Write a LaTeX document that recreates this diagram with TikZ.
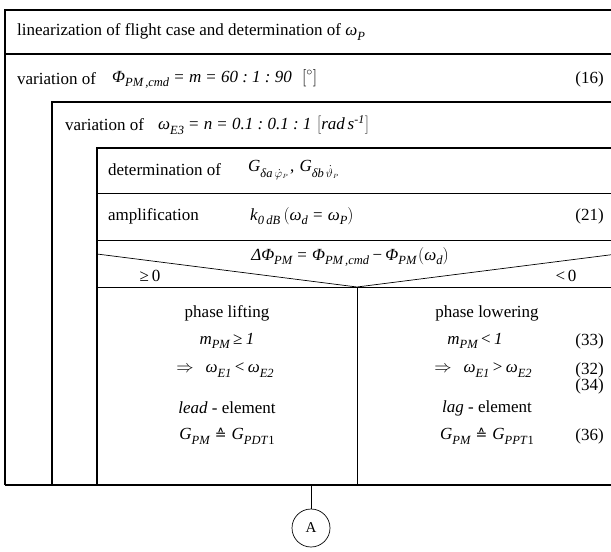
\documentclass[tikz,border=0pt]{standalone}
\usepackage{fontspec}
\setmainfont{Liberation Serif}
\newfontfamily\dvfont{DejaVu Sans}
\newcommand\sbs[1]{\raisebox{-0.28em}{\fontsize{12.5}{13}\selectfont\itshape #1}}
\newcommand\eqs{\hspace{0.3em}=\hspace{0.3em}}
\newcommand\cln{\hspace{0.25em}:\hspace{0.25em}}
\newcommand\hateq{{\dvfont\fontsize{14}{14}\selectfont ≙}}
\tikzset{
  txt/.style={inner sep=0pt,font=\fontsize{17}{20}\selectfont},
  lw/.style={txt,anchor=west},
  le/.style={txt,anchor=east},
  box/.style={line width=1.2pt},
  thin/.style={line width=0.7pt},
}
\begin{document}
\begin{tikzpicture}[x=1pt,y=-1pt]
\useasboundingbox (0,0) rectangle (611,552);
\begin{scope}
\clip (0,0) rectangle (611,552);
% outer box
\draw[box] (5,485) -- (5,10) -- (640,10);
\draw[box] (5,54) -- (640,54);
\draw[box] (5,485) -- (640,485);
% second box
\draw[box] (52,485) -- (52,102) -- (640,102);
% third box
\draw[box] (97,485) -- (97,148) -- (640,148);
\draw[thin] (97,193) -- (640,193);
\draw[thin] (97,240) -- (640,240);
\draw[thin] (97,287) -- (640,287);
\coordinate (tl) at (97,254);
\coordinate (ap) at (357,287);
\coordinate (tr) at (617,254);
\draw[thin] (tl) -- (ap) -- (tr);
\coordinate (db) at (357,485);
\draw[thin] (ap) -- (db);
\end{scope}
% texts
\node[lw] (t1) at (17,32) {linearization of flight case and determination of \textit{ω}\sbs{P}};
\node[lw] (t2a) at (17,79) {variation of};
\node[lw] (t2b) at (112,79) {\textit{Φ}\sbs{PM\,,cmd}\eqs\textit{m}\eqs\textit{60\cln 1\cln 90}\hspace{0.6em}$\left[\vphantom{A}{}^{\circ}\right]$};
\node[le] (n16) at (604,79) {(16)};
\node[lw] (t3a) at (65,125) {variation of};
\node[lw] (t3b) at (158,125) {\textit{ω}\sbs{E3}\eqs\textit{n}\eqs\textit{0.1\cln 0.1\cln 1}\hspace{0.3em}$\left[\mbox{\textit{rad\,s}\textsuperscript{\textit{-1}}}\right]$};
\node[lw] (t4a) at (108,170) {determination of};
\node[lw] (t4b) at (248,170) {\textit{G}\raisebox{-0.3em}{\fontsize{12.5}{13}\selectfont\textit{δa}\,$\dot{\varphi}_{\scriptscriptstyle P}$}\hspace{0.1em},\hspace{0.3em}\textit{G}\raisebox{-0.3em}{\fontsize{12.5}{13}\selectfont\textit{δb}\,$\dot{\vartheta}_{\scriptscriptstyle P}$}};
\node[lw] (t5a) at (108,216) {amplification};
\node[lw] (t5b) at (250,216) {\textit{k}\sbs{0\,dB}\hspace{0.2em}$\left(\mbox{\textit{ω}\sbs{d}\eqs\textit{ω}\sbs{P}}\right)$};
\node[le] (n21) at (604,216) {(21)};
\node[txt] (dec) at (350,257) {\textit{ΔΦ}\sbs{PM}\eqs\textit{Φ}\sbs{PM\,,cmd}\hspace{0.2em}−\hspace{0.2em}\textit{Φ}\sbs{PM}\hspace{0.1em}$\left(\mbox{\textit{ω}\sbs{d}}\right)$};
\node[txt] (ge) at (150,276) {≥\,0};
\node[txt] (lt) at (566,276) {<\,0};
% left column
\node[txt] (l1) at (227,313) {phase lifting};
\node[txt] (l2) at (227,341) {\textit{m}\sbs{PM}\hspace{0.2em}≥\hspace{0.2em}\textit{1}};
\node[txt] (l3) at (225,370) {$\Rightarrow$\hspace{0.7em}\textit{ω}\sbs{E1}\hspace{0.2em}<\hspace{0.2em}\textit{ω}\sbs{E2}};
\node[txt] (l4) at (227,408) {\textit{lead} - element};
\node[txt] (l5) at (227,436) {\textit{G}\sbs{PM}\hspace{0.3em}\hateq\hspace{0.3em}\textit{G}\raisebox{-0.28em}{\fontsize{12.5}{13}\selectfont\textit{PDT}1}};
% right column
\node[txt] (r1) at (487,313) {phase lowering};
\node[txt] (r2) at (475,341) {\textit{m}\sbs{PM}\hspace{0.2em}<\hspace{0.2em}\textit{1}};
\node[txt] (r3) at (483,370) {$\Rightarrow$\hspace{0.7em}\textit{ω}\sbs{E1}\hspace{0.2em}>\hspace{0.2em}\textit{ω}\sbs{E2}};
\node[txt] (r4) at (487,408) {\textit{lag} - element};
\node[txt] (r5) at (487,436) {\textit{G}\sbs{PM}\hspace{0.3em}\hateq\hspace{0.3em}\textit{G}\raisebox{-0.28em}{\fontsize{12.5}{13}\selectfont\textit{PPT}1}};
\node[le] (n33) at (604,341) {(33)};
\node[le] (n32) at (604,370) {(32)};
\node[le] (n34) at (604,386) {(34)};
\node[le] (n36) at (604,436) {(36)};
% connector
\coordinate (cb) at (311,485);
\node[circle,draw,thin,minimum size=38pt,inner sep=0pt,font=\fontsize{15}{18}\selectfont] (A) at (311,528) {A};
\draw[thin] (cb) -- (A);
\end{tikzpicture}
\end{document}
